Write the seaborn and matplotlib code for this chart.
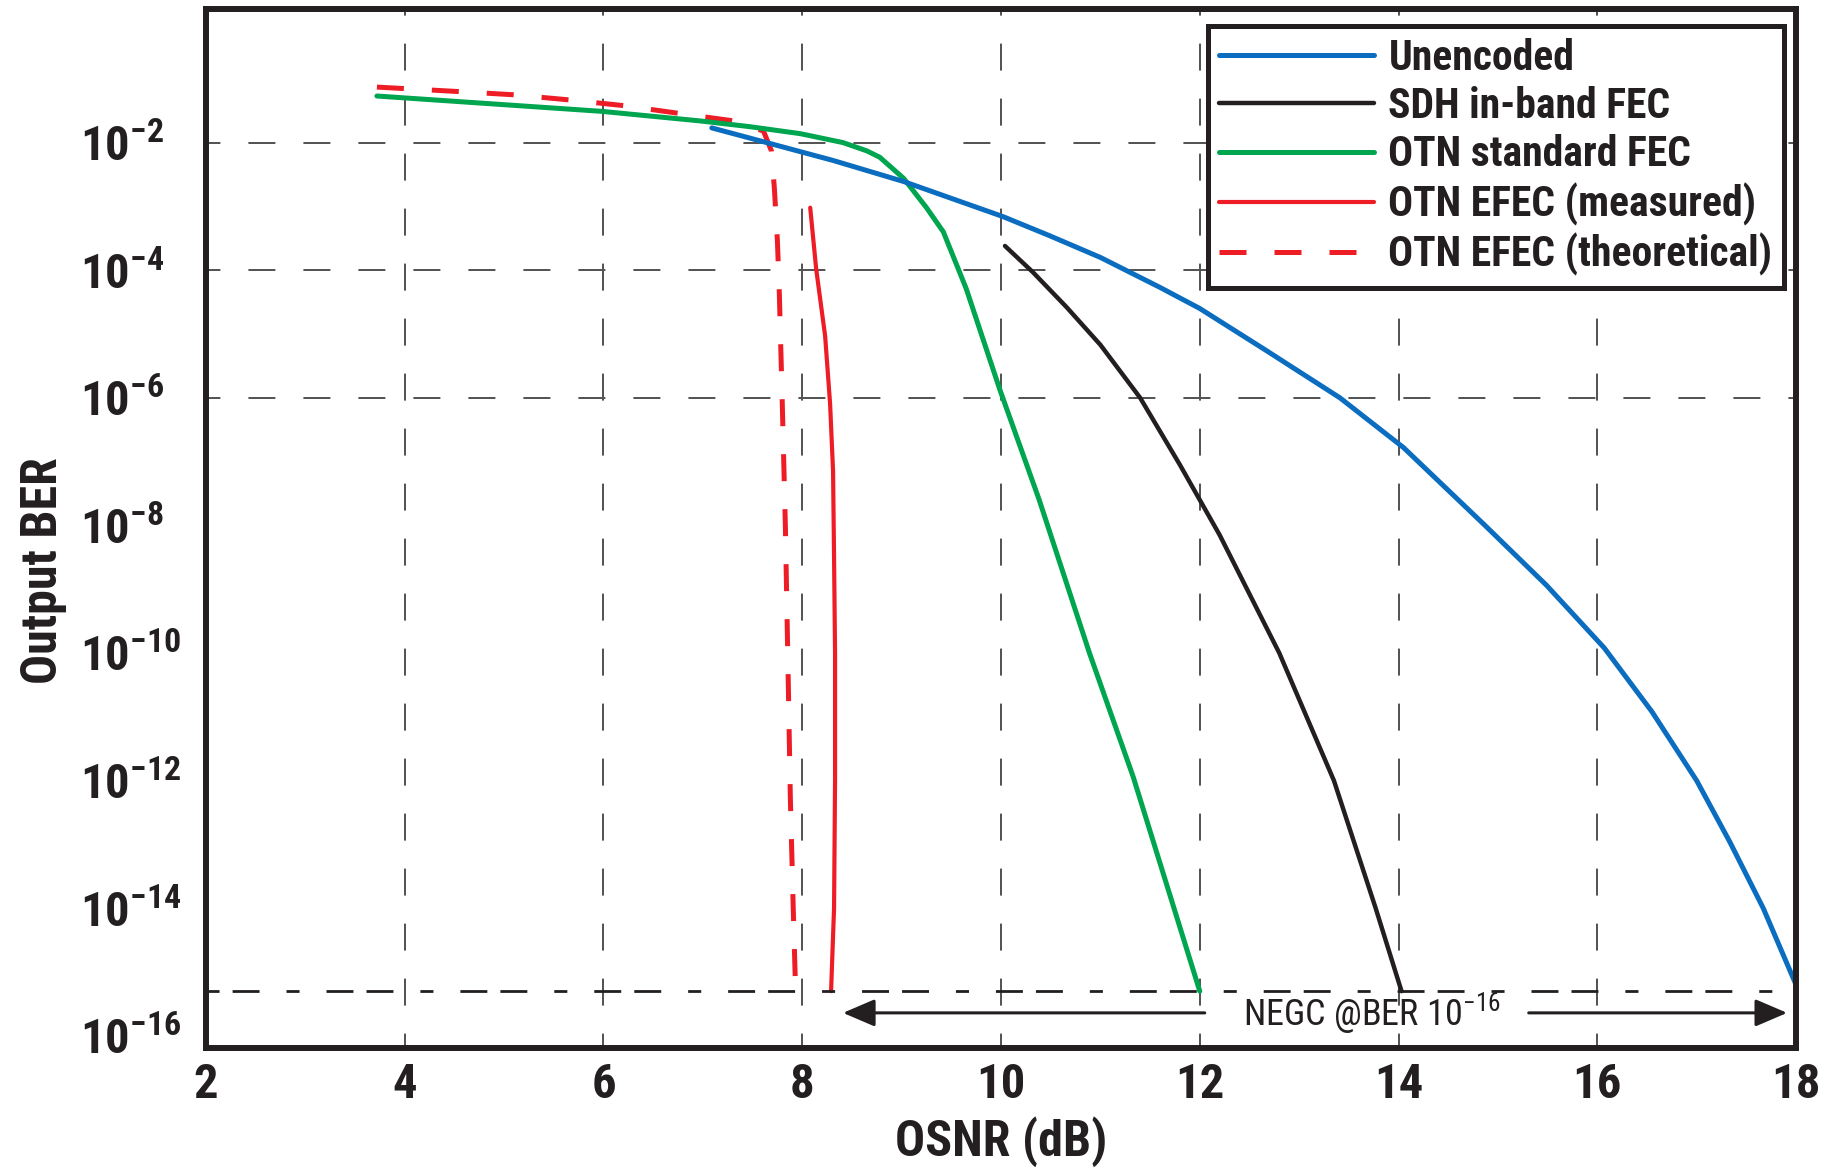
import matplotlib
matplotlib.use('Agg')
import matplotlib.pyplot as plt
from matplotlib import font_manager
import numpy as np
import pandas as pd
import seaborn as sns


# values: OSNR in dB, output BER as log10
unenc_osnr = [7.09, 7.57, 8.31, 9.02, 10.02, 10.49, 11.0, 11.6, 12.0, 12.67, 13.41,
              14.05, 14.87, 15.49, 16.07, 16.55, 17.0, 17.33, 17.67, 18.0]
unenc_logber = [-1.77, -1.97, -2.28, -2.61, -3.16, -3.46, -3.80, -4.27, -4.6, -5.26,
                -6.0, -6.78, -8.0, -8.94, -9.92, -10.92, -12.0, -12.95, -14.0, -15.2]

sdh_osnr = [10.04, 10.32, 10.66, 11.0, 11.4, 11.8, 12.2, 12.8, 13.35, 13.77, 14.03]
sdh_logber = [-3.62, -4.03, -4.58, -5.17, -6.0, -7.05, -8.15, -10.0, -12.0, -14.0,
              -15.3]

otn_osnr = [3.72, 5.98, 6.97, 7.47, 7.98, 8.41, 8.65, 8.78, 9.02, 9.25, 9.42, 9.65,
            9.99, 10.38, 10.89, 11.33, 12.0]
otn_logber = [-1.27, -1.51, -1.66, -1.75, -1.86, -2.0, -2.13, -2.23, -2.56, -3.02,
              -3.40, -4.29, -5.88, -7.58, -10.0, -11.94, -15.3]

efec_meas_osnr = [8.08, 8.14, 8.23, 8.28, 8.31, 8.32, 8.33, 8.33, 8.32, 8.29]
efec_meas_logber = [-3.02, -3.98, -5.03, -6.09, -7.15, -8.5, -10.0, -12.0, -14.0, -15.3]

efec_theo_osnr = [3.72, 4.54, 5.09, 5.65, 6.20, 6.75, 7.31, 7.61, 7.69, 7.72, 7.75,
                  7.77, 7.80, 7.83, 7.86, 7.88, 7.91, 7.93]
efec_theo_logber = [-1.13, -1.20, -1.25, -1.33, -1.42, -1.54, -1.66, -1.82, -2.13,
                    -2.73, -3.54, -4.40, -6.15, -8.0, -10.52, -12.26, -14.04, -15.13]

negc_logber = -15.3
negc_text = 'NEGC @BER $10^{-16}$'

labels = ['Unencoded', 'SDH in-band FEC', 'OTN standard FEC',
          'OTN EFEC (measured)', 'OTN EFEC (theoretical)']
colors = ['#0b6dbf', '#231f20', '#00a54f', '#ee1c25', '#ee1c25']

xticks = [2, 4, 6, 8, 10, 12, 14, 16, 18]
yexps = [-2, -4, -6, -8, -10, -12, -14, -16]

INK = '#231f20'

sns.set_style('white')

# the original uses a condensed face; take one if the box has it
names = {f.name for f in font_manager.fontManager.ttflist}
narrow = [n for n in ['Roboto Condensed', 'Liberation Sans Narrow'] if n in names]
if narrow:
    font = narrow[0]
    sizes = dict(tick=35, axis=36, legend=30, note=26)
else:
    font = 'Liberation Sans'
    sizes = dict(tick=33, axis=31, legend=25.5, note=23)
plt.rcParams['font.family'] = [font, 'DejaVu Sans']
plt.rcParams['mathtext.default'] = 'regular'

fig = plt.figure(figsize=(18.44, 11.70), dpi=100)
ax = fig.add_axes([0.1117, 0.1043, 0.8623, 0.8878])
ax.set_yscale('log')


def curve(x, logy, color, lw):
    df = pd.DataFrame({'osnr': x, 'ber': np.power(10.0, logy)})
    sns.lineplot(data=df, x='osnr', y='ber', sort=False, estimator=None,
                 color=color, lw=lw, ax=ax)
    line = ax.lines[-1]
    line.set_solid_joinstyle('round')
    return line


#draw order: blue ends up on top
h_theo = curve(efec_theo_osnr, efec_theo_logber, colors[4], 3.6)
h_theo.set_dashes([5.4, 5.6])
h_meas = curve(efec_meas_osnr, efec_meas_logber, colors[3], 3.0)
h_otn = curve(otn_osnr, otn_logber, colors[2], 3.6)
h_sdh = curve(sdh_osnr, sdh_logber, colors[1], 3.2)
h_unenc = curve(unenc_osnr, unenc_logber, colors[0], 3.6)

#threshold line
ax.axhline(10 ** negc_logber, color=INK, lw=2,
           linestyle=(5, (9.7, 4.7, 9.7, 9.7, 4.7, 9.7)), zorder=3)

#double arrow split around the text
y_arrow = 10 ** -15.64
arrow = dict(arrowstyle='-|>,head_length=0.7,head_width=0.3', mutation_scale=28,
             lw=2.2, color=INK, shrinkA=0, shrinkB=0)
ax.annotate('', xy=(8.41, y_arrow), xytext=(12.05, y_arrow), arrowprops=arrow)
ax.annotate('', xy=(17.91, y_arrow), xytext=(15.31, y_arrow), arrowprops=arrow)
ax.text(13.73, y_arrow, negc_text, ha='center', va='center',
        fontsize=sizes['note'], color=INK)

ax.set_xlim(2, 18)
ax.set_ylim(10 ** -16.19, 10 ** 0.09)
ax.set_xticks(xticks)
ax.set_yticks([10.0 ** e for e in yexps])
ax.set_yticklabels(['$10^{%d}$' % e for e in yexps])
ax.minorticks_off()

ax.grid(True, color='#555555', lw=1.44, linestyle=(6.3, (13.5, 14)))
ax.set_axisbelow(True)
for tick in ax.yaxis.get_major_ticks():
    if np.isclose(tick.get_loc(), 1e-16):
        tick.gridline.set_visible(False)

ax.tick_params(length=0, labelsize=sizes['tick'], colors=INK)
ax.tick_params(axis='x', pad=10)
ax.tick_params(axis='y', pad=90.7)
for lab in ax.get_xticklabels() + ax.get_yticklabels():
    lab.set_fontweight('bold')
for lab in ax.get_yticklabels():
    lab.set_horizontalalignment('left')

for spine in ax.spines.values():
    spine.set_visible(True)
    spine.set_linewidth(4.3)
    spine.set_color(INK)

ax.set_xlabel('OSNR (dB)', fontsize=sizes['axis'], fontweight='bold', color=INK)
ax.set_ylabel('Output BER', fontsize=sizes['axis'], fontweight='bold', color=INK)
ax.xaxis.set_label_coords(0.5, -0.066)
ax.yaxis.set_label_coords(-0.0874, 0.46)

fs = sizes['legend'] * 100 / 72.0
leg = ax.legend(handles=[h_unenc, h_sdh, h_otn, h_meas, h_theo], labels=labels,
                loc='upper right', bbox_to_anchor=(0.9925, 0.984),
                borderaxespad=0, frameon=True, fancybox=False, framealpha=1,
                edgecolor=INK, handlelength=155 / fs, handletextpad=14 / fs,
                labelspacing=(48.6 - 0.99 * fs) / fs, borderpad=0.28,
                prop={'weight': 'bold', 'size': sizes['legend']})
leg.get_frame().set_linewidth(3.6)
for t in leg.get_texts():
    t.set_color(INK)

fig.savefig('out.png', dpi=100)
